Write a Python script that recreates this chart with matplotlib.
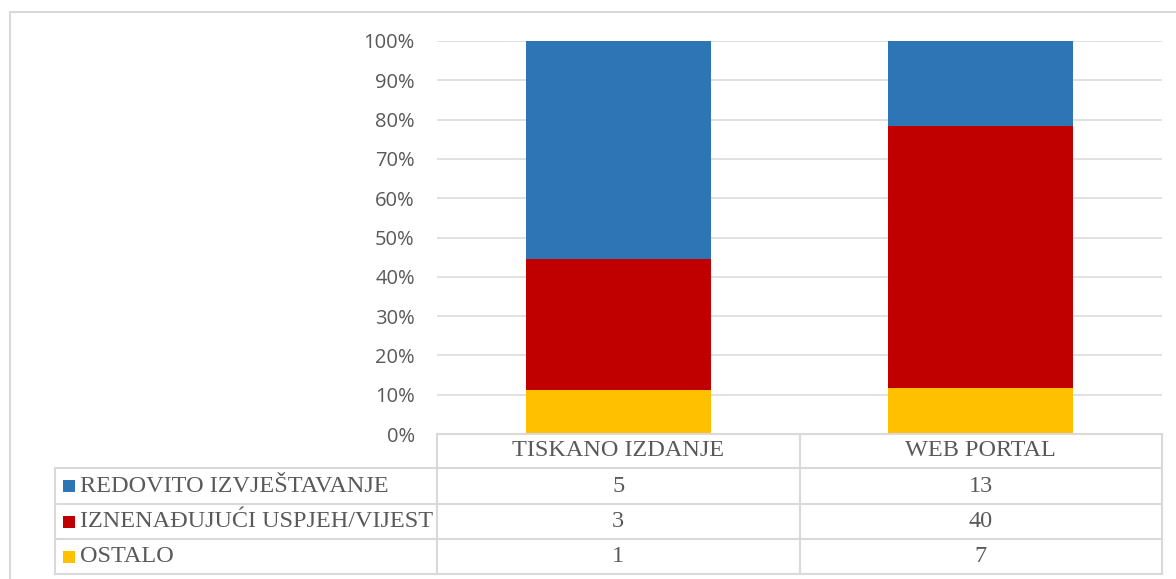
import matplotlib
matplotlib.use('Agg')
import matplotlib.pyplot as plt
from matplotlib.patches import Rectangle
from matplotlib.lines import Line2D
import matplotlib.transforms as mtransforms
import numpy as np

# data
categories = ['TISKANO IZDANJE', 'WEB PORTAL']
series = ['REDOVITO IZVJEŠTAVANJE', 'IZNENAĐUJUĆI USPJEH/VIJEST', 'OSTALO']
redovito = [5, 13]
iznenadujuci = [3, 40]
ostalo = [1, 7]
colors = ['#2E75B6', '#C00000', '#FFC000']

W, H = 1176, 579
grey = '#595959'
line_col = '#D9D9D9'


def fx(x):
    return x / W


def fy(y):
    return 1 - y / H


fig = plt.figure(figsize=(W / 100, H / 100), dpi=100)

# outer chart border
fig.add_artist(Rectangle((fx(10), fy(600)), fx(1200), (600 - 12) / H, transform=fig.transFigure,
                         fill=False, edgecolor=line_col, lw=1.5))

ax = fig.add_axes([fx(437), fy(434), fx(1162 - 437), (434 - 41) / H])

values = np.array([redovito, iznenadujuci, ostalo], dtype=float)
totals = values.sum(axis=0)
pct = values / totals * 100

x = np.arange(len(categories))
bottom = np.zeros(len(categories))
# stack from bottom: ostalo, iznenadujuci, redovito
for i in [2, 1, 0]:
    ax.bar(x, pct[i], 0.51, bottom=bottom, color=colors[i], zorder=3)
    bottom += pct[i]

ax.set_xlim(-0.5, len(categories) - 0.5)
ax.set_ylim(0, 100)
ax.set_yticks(np.arange(0, 101, 10))
ax.set_yticklabels([f'{v}%' for v in range(0, 101, 10)], fontsize=14.5,
                   color=grey, family='Open Sans')
ax.tick_params(axis='y', length=0, pad=16)
ax.set_xticks([])
ax.grid(axis='y', color=line_col, lw=1.1, zorder=0)
for s in ax.spines.values():
    s.set_visible(False)

# data table under the chart
tr = mtransforms.blended_transform_factory(ax.transData, fig.transFigure)
rows_y = [434, 468, 504, 539, 574]
xl, xr = -0.5, len(categories) - 0.5
lab_left = 55

# horizontal lines
fig.add_artist(Line2D([xl, xr], [fy(rows_y[0])] * 2, transform=tr, color=line_col, lw=1.5))
for y in rows_y[1:]:
    fig.add_artist(Line2D([fx(lab_left), fx(1162)], [fy(y)] * 2, transform=fig.transFigure,
                          color=line_col, lw=1.5))
# vertical lines
for xv in np.arange(xl, xr + 0.01, 1.0):
    fig.add_artist(Line2D([xv, xv], [fy(rows_y[0]), fy(rows_y[-1])], transform=tr,
                          color=line_col, lw=1.5))
fig.add_artist(Line2D([fx(lab_left)] * 2, [fy(rows_y[1]), fy(rows_y[-1])],
                      transform=fig.transFigure, color=line_col, lw=1.5))

font = dict(family='Liberation Serif', fontsize=17.5, color=grey)
hy = (rows_y[0] + rows_y[1]) / 2
for i, c in enumerate(categories):
    fig.text(x[i], fy(hy), c, transform=tr, ha='center', va='center', **font)

for r, name in enumerate(series):
    cy = (rows_y[r + 1] + rows_y[r + 2]) / 2
    fig.add_artist(Rectangle((fx(63), fy(cy + 6)), fx(12), 12 / H, transform=fig.transFigure,
                             facecolor=colors[r], edgecolor='none'))
    fig.text(fx(80), fy(cy), name, ha='left', va='center', **font)
    for i in range(len(categories)):
        fig.text(x[i], fy(cy), str(int(values[r, i])), transform=tr,
                 ha='center', va='center', **font)

fig.savefig('out.png', dpi=100)
